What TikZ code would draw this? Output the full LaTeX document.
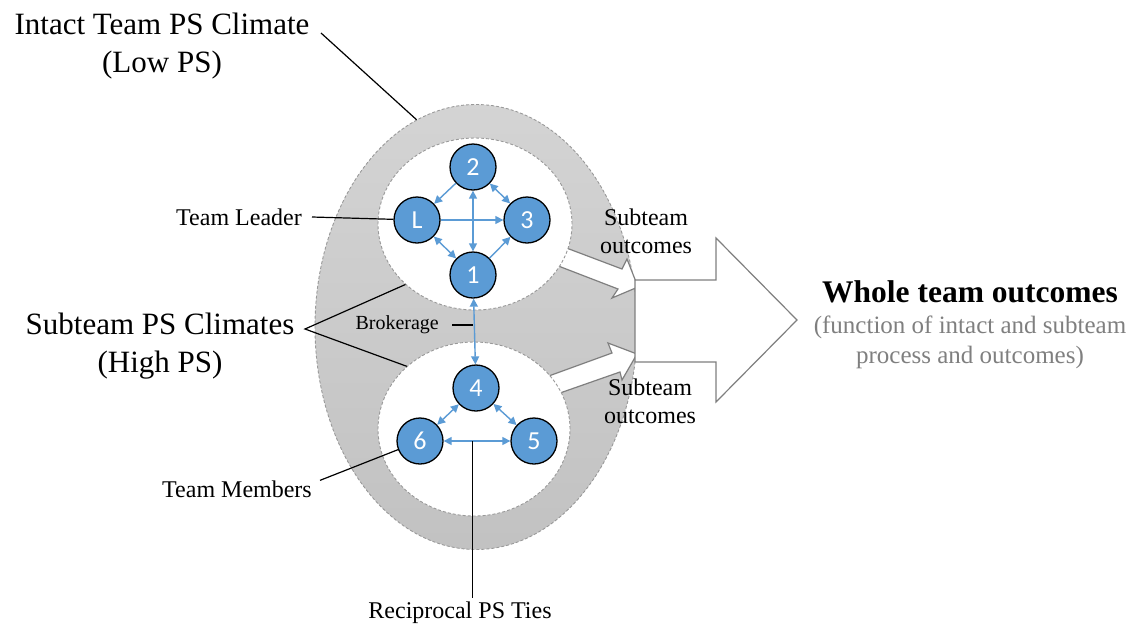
\documentclass[tikz,border=0pt]{standalone}
\usepackage{fontspec}
\setmainfont{Liberation Serif}
\newfontfamily\calibrifont{Carlito}
\usetikzlibrary{positioning,shapes,calc,arrows.meta}
\definecolor{psblue}{RGB}{91,155,213}
\definecolor{psgray}{RGB}{127,127,127}
\tikzset{
  member/.style={circle,draw=black,line width=1.3pt,fill=psblue,minimum size=46pt,inner sep=0pt,text=white,font=\calibrifont\fontsize{26}{26}\selectfont},
  tie/.style={draw=psblue,line width=1.4pt,>={Triangle[length=8pt,width=8pt]}},
  climate/.style={ellipse,draw=black!40,dash pattern=on 3pt off 2pt,line width=0.9pt,inner sep=0pt},
  leader/.style={draw=black,line width=1.2pt},
  biglabel/.style={font=\fontsize{31}{38}\selectfont,align=center},
  smalllabel/.style={font=\fontsize{24}{28}\selectfont,align=center,inner sep=5pt},
  blockarrow/.style={draw=psgray,fill=white,line width=1.2pt,line join=miter}
}

\begin{document}
\begin{tikzpicture}[x=1pt,y=-1pt]
			\useasboundingbox (0,0) rectangle (1136,625);
			% intact team climate
			\node[climate,top color=black!17,bottom color=black!24,minimum width=322pt,minimum height=445pt] (intact) at (476,327) {};
			% subteam outcome arrows and the whole team arrow
			\draw[blockarrow] (540,238) -- (622,269) -- (627,259) -- (638,287) -- (612,298) -- (618,289) -- (535,257) -- cycle;
			\draw[blockarrow] (535,381) -- (612,353) -- (608,343) -- (637,354) -- (622,380) -- (620,372) -- (540,400) -- cycle;
			\draw[blockarrow] (635,280) -- (716,280) -- (716,238) -- (797,320) -- (716,402) -- (716,362) -- (635,362) -- cycle;
			% subteam climates
			\node[climate,fill=white,minimum width=194pt,minimum height=172pt] (upper) at (475,224) {};
			\node[climate,fill=white,minimum width=192pt,minimum height=174pt] (lower) at (474,429) {};

			\node[member] (nL) at (417,220) {L};
			\node[member] (n2) at (473,167) {2};
			\node[member] (n3) at (527,220) {3};
			\node[member] (n1) at (473,275) {1};
			\node[member] (n4) at (476,388) {4};
			\node[member] (n6) at (420,441) {6};
			\node[member] (n5) at (534,441) {5};

			\begin{scope}[tie]
			\draw[->] (n2) -- (nL);
			\draw[<->] (n2) -- (n3);
			\draw[<->] (n2) -- (n1);
			\draw[->] (nL) -- (n3);
			\draw[<->] (nL) -- (n1);
			\draw[->] (n1) -- (n3);
			\draw[<->] (n1) -- (n4);
			\draw[<->] (n4) -- (n6);
			\draw[<->] (n4) -- (n5);
			\draw[<->] (n6) -- (n5);
			\end{scope}

			% labels
			\node[biglabel] (intactlbl) at (162,46) {Intact Team PS Climate\\(Low PS)};
			\node[biglabel] (sublbl) at (160,346) {Subteam PS Climates\\(High PS)};
			\node[smalllabel,anchor=east,inner xsep=10pt,inner ysep=0pt] (leaderlbl) at (312,217) {Team Leader};
			\node[smalllabel,anchor=east,inner xsep=8pt,inner ysep=0pt] (memberlbl) at (320,489) {Team Members};
			\node[font=\fontsize{20}{24}\selectfont,anchor=east,inner xsep=13pt,inner ysep=0pt] (broklbl) at (452,325) {Brokerage};
			\node[smalllabel,anchor=base,inner ysep=3pt] (tieslbl) at (460,618) {Reciprocal PS Ties};
			\node[smalllabel] (outup) at (646,231) {Subteam\\outcomes};
			\node[smalllabel] (outlow) at (650,401) {Subteam\\outcomes};
			\node[font=\bfseries\fontsize{31.5}{36}\selectfont,anchor=base] (whole) at (970,302) {Whole team outcomes};
			\node[font=\fontsize{25}{30}\selectfont,text=psgray,align=center] (wholenote) at (970,342) {(function of intact and subteam\\process and outcomes)};

			\coordinate (intactpt) at (321,33);
			\coordinate (subapex) at (305,329);
			\coordinate (tiept) at ($(n6)!0.46!(n5)$);
			\begin{scope}[leader]
			\draw (intactpt) -- (intact.106);
			\draw (upper.221) -- (subapex) -- (lower.137);
			\draw (leaderlbl.east) -- (nL);
			\draw (memberlbl.north east) -- (n6);
			\draw (broklbl.east) -- (broklbl.east -| n1);
			\draw (tiept) -- (tiept |- tieslbl.north);
			\end{scope}
\end{tikzpicture}
\end{document}
